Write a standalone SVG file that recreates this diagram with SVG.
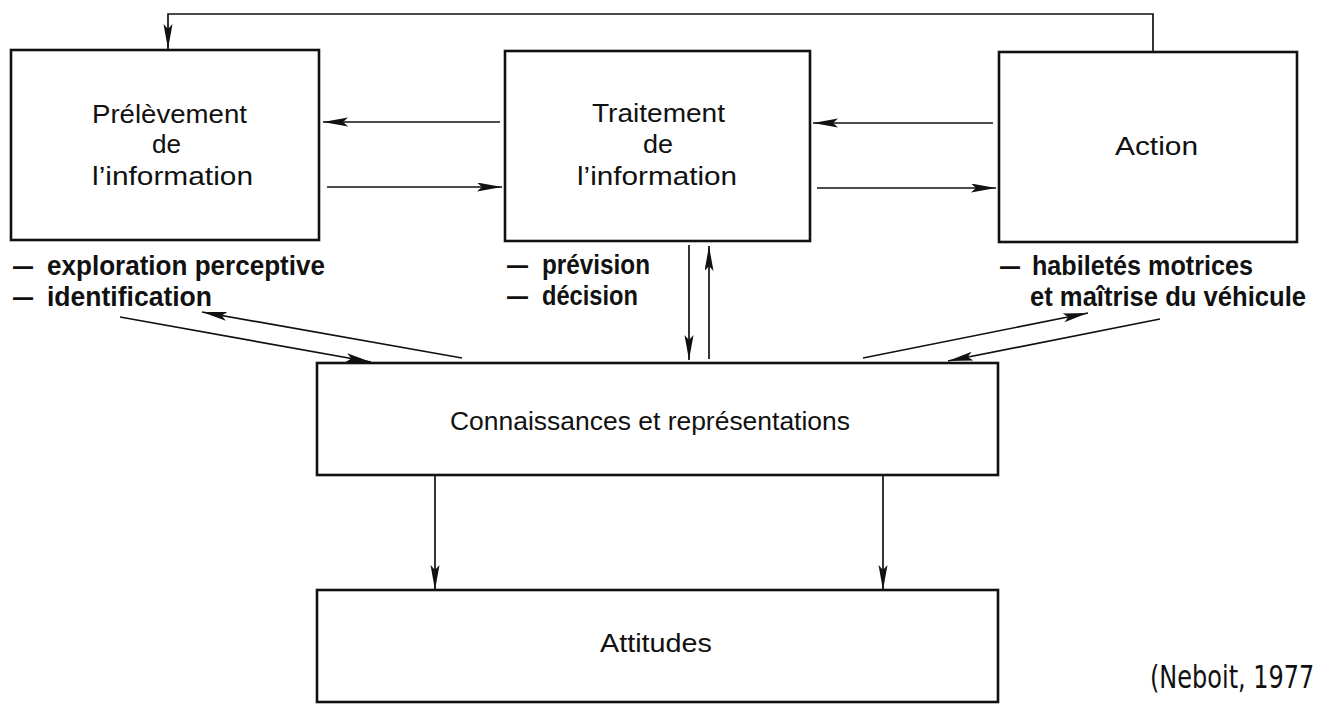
<svg xmlns="http://www.w3.org/2000/svg" width="1326" height="707" viewBox="0 0 1326 707">
<style>
.box{fill:#fff;stroke:#111;stroke-width:2.6}
.lbl{font-family:"Liberation Sans",Arial,sans-serif;font-size:25px;fill:#111}
.bld{font-family:"Liberation Sans",Arial,sans-serif;font-size:27px;font-weight:bold;fill:#111}
.cite{font-family:"DejaVu Sans",sans-serif;font-size:24px;fill:#111}
.con{fill:none;stroke:#111;stroke-width:1.7}
</style>
<defs>
<marker id="ah" markerUnits="userSpaceOnUse" markerWidth="28" markerHeight="12" refX="25" refY="4.5" orient="auto">
<path d="M0,0 L25,4.5 L0,9 L5,4.5 z" fill="#111"/>
</marker>
</defs>
<rect width="1326" height="707" fill="#fff"/>

<g id="node-prelevement">
<rect class="box" x="11" y="50" width="308" height="190"/>
<text class="lbl" x="92" y="123" textLength="155" lengthAdjust="spacingAndGlyphs">Prélèvement</text>
<text class="lbl" x="152" y="153" textLength="29" lengthAdjust="spacingAndGlyphs">de</text>
<text class="lbl" x="92" y="185" textLength="161" lengthAdjust="spacingAndGlyphs">l’information</text>
</g>

<g id="node-traitement">
<rect class="box" x="505" y="51" width="305" height="190"/>
<text class="lbl" x="592" y="122" textLength="133" lengthAdjust="spacingAndGlyphs">Traitement</text>
<text class="lbl" x="643" y="153" textLength="30" lengthAdjust="spacingAndGlyphs">de</text>
<text class="lbl" x="577" y="185" textLength="160" lengthAdjust="spacingAndGlyphs">l’information</text>
</g>

<g id="node-action">
<rect class="box" x="999" y="52" width="298" height="190"/>
<text class="lbl" x="1115" y="155" textLength="83" lengthAdjust="spacingAndGlyphs">Action</text>
</g>

<g id="node-connaissances">
<rect class="box" x="317" y="363" width="681" height="112"/>
<text class="lbl" x="450" y="430" textLength="400" lengthAdjust="spacingAndGlyphs">Connaissances et représentations</text>
</g>

<g id="node-attitudes">
<rect class="box" x="317" y="590" width="681" height="112"/>
<text class="lbl" x="600" y="652" textLength="112" lengthAdjust="spacingAndGlyphs">Attitudes</text>
</g>

<g id="labels">
<text class="bld" x="13" y="275" textLength="20" lengthAdjust="spacingAndGlyphs">—</text>
<text class="bld" x="47" y="275" textLength="278" lengthAdjust="spacingAndGlyphs">exploration perceptive</text>
<text class="bld" x="13" y="306" textLength="20" lengthAdjust="spacingAndGlyphs">—</text>
<text class="bld" x="47" y="306" textLength="165" lengthAdjust="spacingAndGlyphs">identification</text>
<text class="bld" x="507" y="274" textLength="21" lengthAdjust="spacingAndGlyphs">—</text>
<text class="bld" x="542" y="274" textLength="108" lengthAdjust="spacingAndGlyphs">prévision</text>
<text class="bld" x="507" y="305" textLength="21" lengthAdjust="spacingAndGlyphs">—</text>
<text class="bld" x="542" y="305" textLength="96" lengthAdjust="spacingAndGlyphs">décision</text>
<text class="bld" x="1000" y="275" textLength="20" lengthAdjust="spacingAndGlyphs">—</text>
<text class="bld" x="1032" y="275" textLength="221" lengthAdjust="spacingAndGlyphs">habiletés motrices</text>
<text class="bld" x="1030" y="306" textLength="276" lengthAdjust="spacingAndGlyphs">et maîtrise du véhicule</text>
<text class="cite" transform="translate(1150,688) scale(1,1.35)" x="0" y="0">(Neboit, 1977</text>
</g>

<g id="connectors">
<polyline class="con" points="1153,52 1153,14 168,14 168,49" marker-end="url(#ah)"/>
<line class="con" x1="500" y1="122" x2="323" y2="122" marker-end="url(#ah)"/>
<line class="con" x1="327" y1="187" x2="502" y2="187" marker-end="url(#ah)"/>
<line class="con" x1="993" y1="123" x2="813" y2="123" marker-end="url(#ah)"/>
<line class="con" x1="817" y1="188" x2="996" y2="188" marker-end="url(#ah)"/>
<line class="con" x1="689" y1="245" x2="689" y2="360" marker-end="url(#ah)"/>
<line class="con" x1="709" y1="359" x2="709" y2="246" marker-end="url(#ah)"/>
<line class="con" x1="120" y1="317" x2="371" y2="362" marker-end="url(#ah)"/>
<line class="con" x1="462" y1="358" x2="202" y2="312" marker-end="url(#ah)"/>
<line class="con" x1="863" y1="358" x2="1088" y2="313" marker-end="url(#ah)"/>
<line class="con" x1="1160" y1="319" x2="948" y2="361" marker-end="url(#ah)"/>
<line class="con" x1="435" y1="475" x2="435" y2="590" marker-end="url(#ah)"/>
<line class="con" x1="883" y1="475" x2="883" y2="590" marker-end="url(#ah)"/>
</g>
</svg>
